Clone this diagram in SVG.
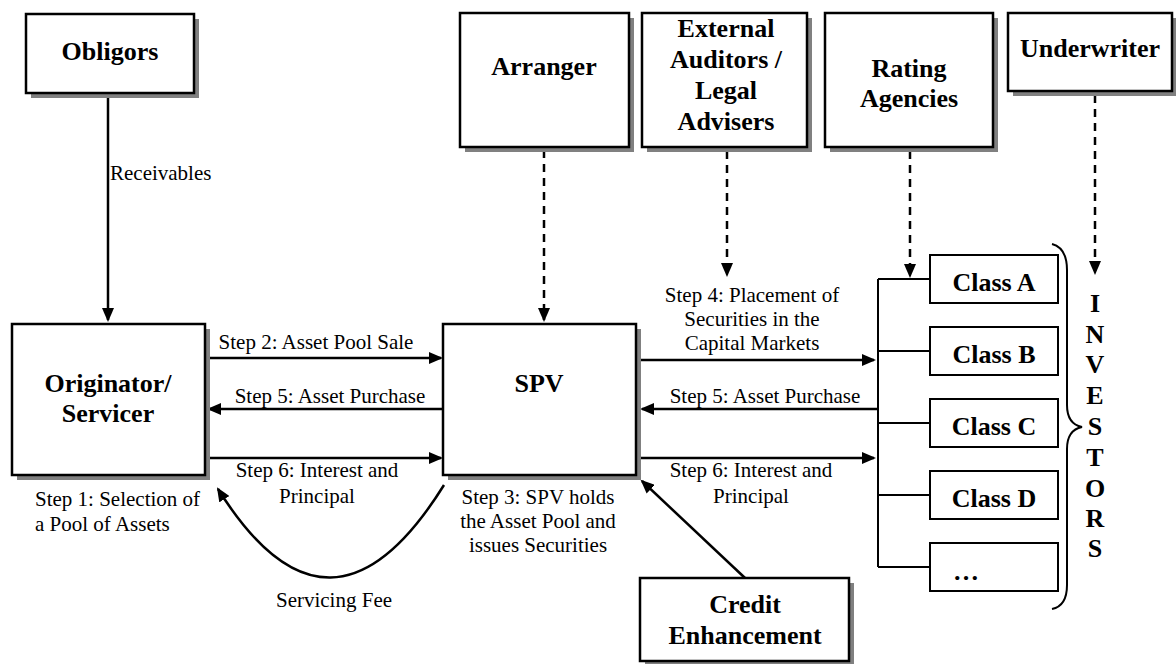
<svg xmlns="http://www.w3.org/2000/svg" width="1176" height="664" viewBox="0 0 1176 664">
<defs>
<marker id="ah" viewBox="0 0 14 12" markerWidth="14" markerHeight="12" refX="12" refY="6" orient="auto" markerUnits="userSpaceOnUse">
<path d="M0,0 L14,6 L0,12 Z" fill="#000"/>
</marker>
</defs>
<style>
.box{fill:#fff;stroke:#000;stroke-width:2.5}
.shd{fill:#808080}
.cls{fill:#fff;stroke:#000;stroke-width:2}
.t{font-family:"Liberation Serif","Times New Roman",serif;font-weight:bold;font-size:26px;text-anchor:middle;fill:#000}
.l{font-family:"Liberation Serif","Times New Roman",serif;font-size:21px;text-anchor:middle;fill:#000}
.c{fill:none;stroke:#000;stroke-width:2.5}
.d{fill:none;stroke:#000;stroke-width:2.5;stroke-dasharray:8 6}
.b{fill:none;stroke:#000;stroke-width:2}
</style>
<rect width="1176" height="664" fill="#fff"/>

<g id="connectors">
<line class="c" x1="108" y1="93" x2="108" y2="320" marker-end="url(#ah)"/>
<line class="c" x1="207" y1="358" x2="441" y2="358" marker-end="url(#ah)"/>
<line class="c" x1="443" y1="409" x2="209" y2="409" marker-end="url(#ah)"/>
<line class="c" x1="207" y1="458" x2="441" y2="458" marker-end="url(#ah)"/>
<path class="c" d="M444,485 Q330,668 218,489" marker-end="url(#ah)"/>
<line class="c" x1="745" y1="578" x2="642" y2="481" marker-end="url(#ah)"/>
<line class="c" x1="640" y1="360" x2="874" y2="360" marker-end="url(#ah)"/>
<line class="c" x1="878" y1="409" x2="642" y2="409" marker-end="url(#ah)"/>
<line class="c" x1="640" y1="458" x2="874" y2="458" marker-end="url(#ah)"/>
<line class="d" x1="544" y1="150" x2="544" y2="320" marker-end="url(#ah)"/>
<line class="d" x1="727" y1="151" x2="727" y2="275" marker-end="url(#ah)"/>
<line class="d" x1="910" y1="151" x2="910" y2="276" marker-end="url(#ah)"/>
<line class="d" x1="1095" y1="95" x2="1095" y2="273" marker-end="url(#ah)"/>
<path class="b" d="M878,279 L878,567 M878,279 L930,279 M878,351 L930,351 M878,423 L930,423 M878,495 L930,495 M878,567 L930,567"/>
<path class="b" d="M1052,244 Q1067,248 1067,270 L1067,405 Q1067,424 1082,427 Q1067,430 1067,449 L1067,585 Q1067,606 1052,609"/>
</g>

<g id="obligors">
<rect class="shd" x="31" y="19" width="168" height="79"/>
<rect class="box" x="26" y="14" width="168" height="79"/>
<text class="t" x="110" y="60">Obligors</text>
</g>

<g id="originator">
<rect class="shd" x="17" y="329" width="193" height="151"/>
<rect class="box" x="12" y="324" width="193" height="151"/>
<text class="t" x="108" y="392">Originator/</text>
<text class="t" x="108" y="422">Servicer</text>
</g>

<g id="spv">
<rect class="shd" x="448" y="329" width="193" height="151"/>
<rect class="box" x="443" y="324" width="193" height="151"/>
<text class="t" x="539" y="392">SPV</text>
</g>

<g id="arranger">
<rect class="shd" x="465" y="18" width="169" height="134"/>
<rect class="box" x="460" y="13" width="169" height="134"/>
<text class="t" x="544" y="75">Arranger</text>
</g>

<g id="auditors">
<rect class="shd" x="647" y="18" width="165" height="134"/>
<rect class="box" x="642" y="13" width="165" height="134"/>
<text class="t" x="726" y="37">External</text>
<text class="t" x="726" y="68">Auditors /</text>
<text class="t" x="726" y="99">Legal</text>
<text class="t" x="726" y="130">Advisers</text>
</g>

<g id="rating">
<rect class="shd" x="830" y="18" width="168" height="134"/>
<rect class="box" x="825" y="13" width="168" height="134"/>
<text class="t" x="909" y="77">Rating</text>
<text class="t" x="909" y="107">Agencies</text>
</g>

<g id="underwriter">
<rect class="shd" x="1013" y="18" width="164" height="78"/>
<rect class="box" x="1008" y="13" width="164" height="78"/>
<text class="t" x="1090" y="57">Underwriter</text>
</g>

<g id="credit">
<rect class="shd" x="645" y="583" width="209" height="83"/>
<rect class="box" x="640" y="578" width="209" height="83"/>
<text class="t" x="745" y="613">Credit</text>
<text class="t" x="745" y="644">Enhancement</text>
</g>

<g id="classA"><rect class="cls" x="930" y="255" width="128" height="48"/><text class="t" x="994" y="291">Class A</text></g>
<g id="classB"><rect class="cls" x="930" y="327" width="128" height="48"/><text class="t" x="994" y="363">Class B</text></g>
<g id="classC"><rect class="cls" x="930" y="399" width="128" height="48"/><text class="t" x="994" y="435">Class C</text></g>
<g id="classD"><rect class="cls" x="930" y="471" width="128" height="48"/><text class="t" x="994" y="507">Class D</text></g>
<g id="classMore"><rect class="cls" x="930" y="543" width="128" height="48"/><text class="t" x="953" y="580" style="text-anchor:start">…</text></g>

<g id="investors">
<text class="t" x="1095" y="312">I</text>
<text class="t" x="1095" y="343">N</text>
<text class="t" x="1095" y="373">V</text>
<text class="t" x="1095" y="404">E</text>
<text class="t" x="1095" y="435">S</text>
<text class="t" x="1095" y="466">T</text>
<text class="t" x="1095" y="497">O</text>
<text class="t" x="1095" y="527">R</text>
<text class="t" x="1095" y="557">S</text>
</g>

<g id="labels">
<text class="l" x="110" y="180" style="text-anchor:start">Receivables</text>
<text class="l" x="316" y="349">Step 2: Asset Pool Sale</text>
<text class="l" x="330" y="403">Step 5: Asset Purchase</text>
<text class="l" x="317" y="477">Step 6: Interest and</text>
<text class="l" x="317" y="503">Principal</text>
<text class="l" x="35" y="506" style="text-anchor:start">Step 1: Selection of</text>
<text class="l" x="35" y="531" style="text-anchor:start">a Pool of Assets</text>
<text class="l" x="334" y="607">Servicing Fee</text>
<text class="l" x="538" y="504">Step 3: SPV holds</text>
<text class="l" x="538" y="528">the Asset Pool and</text>
<text class="l" x="538" y="552">issues Securities</text>
<text class="l" x="752" y="302">Step 4: Placement of</text>
<text class="l" x="752" y="326">Securities in the</text>
<text class="l" x="752" y="350">Capital Markets</text>
<text class="l" x="765" y="403">Step 5: Asset Purchase</text>
<text class="l" x="751" y="477">Step 6: Interest and</text>
<text class="l" x="751" y="503">Principal</text>
</g>
</svg>
